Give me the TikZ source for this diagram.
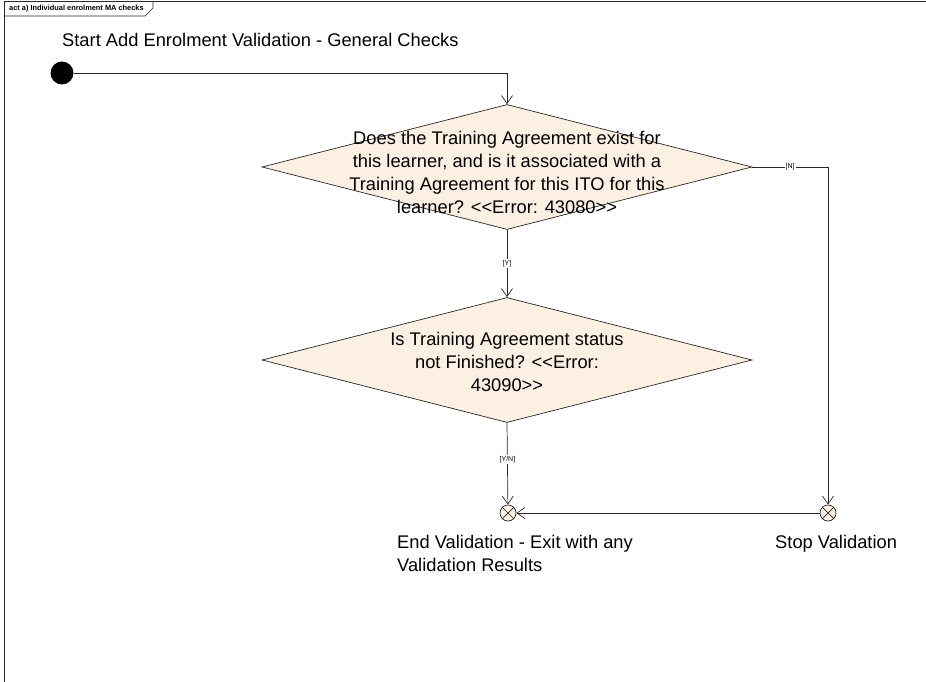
\documentclass[tikz,border=0pt]{standalone}
\usepackage{fontspec}
\setmainfont{Liberation Sans}[Ligatures=TeXOff]
\usetikzlibrary{shapes.geometric,arrows.meta}
\definecolor{creamfill}{RGB}{251,240,226}
\definecolor{linec}{RGB}{40,40,40}
\tikzset{
  x=1pt, y=-1pt,
  decision/.style={shape=diamond, draw=linec, fill=creamfill, line width=0.7pt, inner sep=0pt, minimum width=490pt, minimum height=125pt},
  dtext/.style={align=center, inner sep=0pt, font=\fontsize{18.3}{23}\selectfont},
  plain/.style={inner sep=0pt, font=\fontsize{18.3}{23}\selectfont},
  finalnode/.style={circle, draw=linec, fill=creamfill, line width=0.7pt, minimum size=16pt, inner sep=0pt},
  initnode/.style={circle, fill=black, minimum size=23pt, inner sep=0pt},
  flow/.style={draw=linec, line width=0.7pt, -{Straight Barb[length=8pt,width=11pt]}},
  guard/.style={fill=white, inner sep=1pt, font=\fontsize{7}{8}\selectfont},
}
\begin{document}
\begin{tikzpicture}
\useasboundingbox (0,0) rectangle (926,682);
% frame
\coordinate (ftl) at (4,1);
\coordinate (ftr) at (926,1);
\coordinate (fbl) at (4,682);
\draw[linec, line width=0.8pt] (ftr) -- (ftl) -- (fbl);
\draw[linec, line width=0.6pt] (4,16) -- (145,16) -- (153,8) -- (153,1);
\node[anchor=west, inner sep=0pt, font=\bfseries\fontsize{7.4}{8}\selectfont] (ftitle) at (9,8.5) {act a) Individual enrolment MA checks};

% start
\node[initnode] (start) at (62,73) {};
\node[plain, anchor=west] (startlbl) at (62,40) {Start Add Enrolment Validation - General Checks};

% decisions
\node[decision] (d1) at (507,167) {};
\node[dtext] (d1t) at (507,172) {Does the Training Agreement exist for\\this learner, and is it associated with a\\Training Agreement for this ITO for this\\learner? <<Error: 43080>>};

\node[decision] (d2) at (507,360) {};
\node[dtext] (d2t) at (507,362) {Is Training Agreement status\\not Finished? <<Error:\\43090>>};

% finals
\node[finalnode] (e1) at (508,513) {};
\draw[linec, line width=0.7pt] (e1.north east) -- (e1.south west) (e1.north west) -- (e1.south east);
\node[finalnode] (e2) at (828,513) {};
\draw[linec, line width=0.7pt] (e2.north east) -- (e2.south west) (e2.north west) -- (e2.south east);

\node[plain, anchor=north west, align=left] (e1lbl) at (397,535) {End Validation - Exit with any\\Validation Results};
\node[plain, anchor=north west] (e2lbl) at (775,535) {Stop Validation};

% flows
\draw[flow] (start) -| (d1.north);
\draw[flow] (d1.south) -- node[guard] {[Y]} (d2.north);
\draw[flow] (d2.south) -- node[guard, pos=0.45] {[Y/N]} (e1);
\draw[flow] (d1.east) -| node[guard, pos=0.25] {[N]} (e2);
\draw[flow] (e2) -- (e1);
\end{tikzpicture}
\end{document}
